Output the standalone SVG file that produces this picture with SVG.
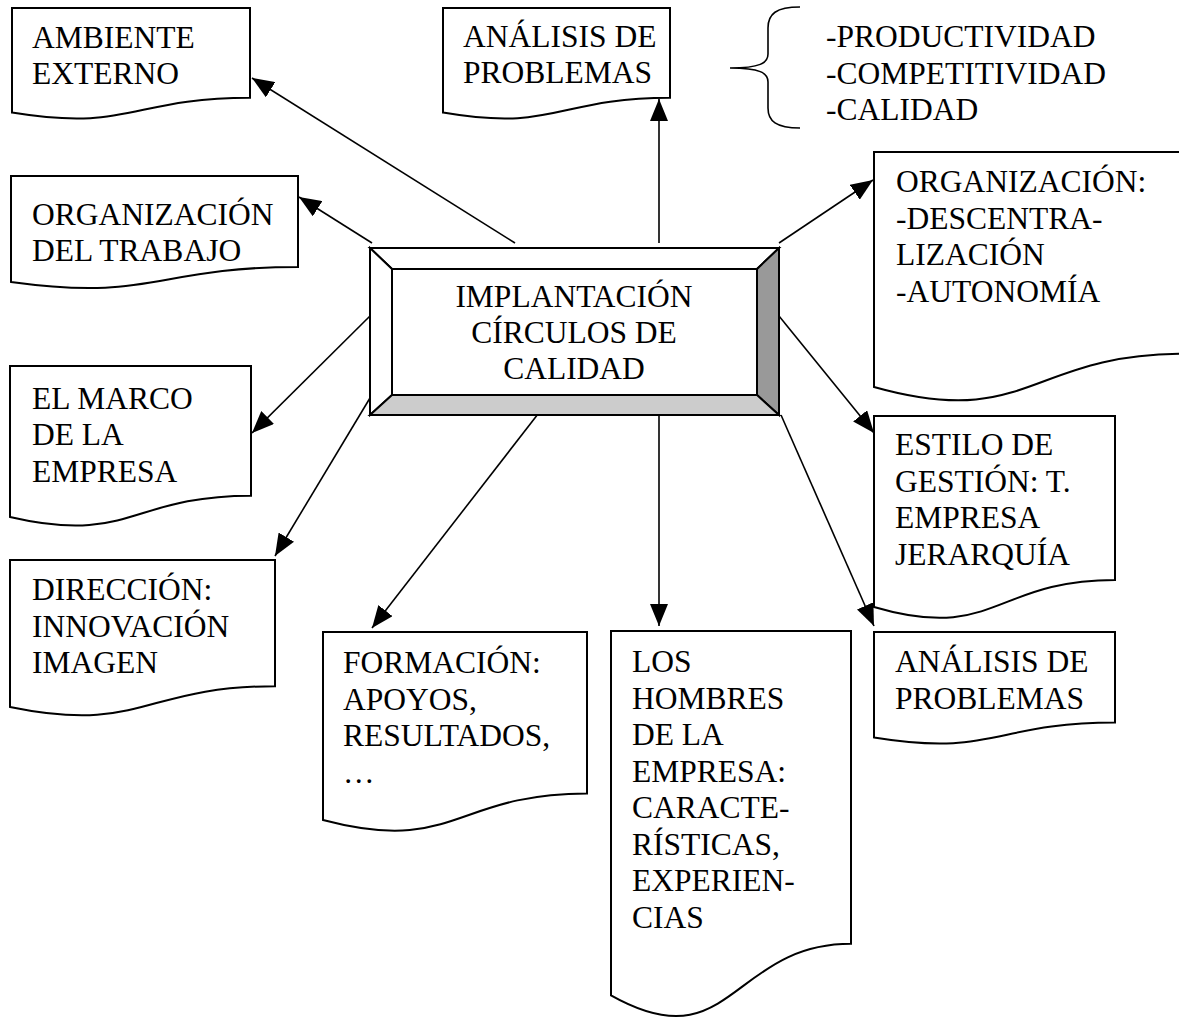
<svg xmlns="http://www.w3.org/2000/svg" width="1179" height="1019" viewBox="0 0 1179 1019">
<style>
.doc{fill:#fff;stroke:#000;stroke-width:2;stroke-linejoin:miter}
.t{font-family:'Liberation Serif','Times New Roman',serif;font-size:31.5px;fill:#000}
.c{stroke:#000;stroke-width:1.6;fill:none}
.bev{stroke:#000;stroke-width:2;stroke-linejoin:miter}
</style>
<defs>
<marker id="ah" markerUnits="userSpaceOnUse" markerWidth="23" markerHeight="18" viewBox="0 0 23 18" refX="22" refY="9" orient="auto">
<path d="M0,0 L22,9 L0,18 Z" fill="#000"/>
</marker>
</defs>
<rect width="1179" height="1019" fill="#fff"/>

<g id="connectors">
<path class="c" marker-end="url(#ah)" d="M515,243 L252,78"/>
<path class="c" marker-end="url(#ah)" d="M659,243 L659,99"/>
<path class="c" marker-end="url(#ah)" d="M372,243 L299,197"/>
<path class="c" marker-end="url(#ah)" d="M779,243 L873,180"/>
<path class="c" marker-end="url(#ah)" d="M370,316 L252,433"/>
<path class="c" marker-end="url(#ah)" d="M370,398 L275,556"/>
<path class="c" marker-end="url(#ah)" d="M538,414 L372,628"/>
<path class="c" marker-end="url(#ah)" d="M659,415 L659,626"/>
<path class="c" marker-end="url(#ah)" d="M779,316 L874,433"/>
<path class="c" marker-end="url(#ah)" d="M781,415 L874,626"/>
</g>

<g id="center">
<polygon class="bev" fill="#fff" points="370,248 779,248 757,269 392,269"/>
<polygon class="bev" fill="#fff" points="370,248 392,269 392,395 370,415"/>
<polygon class="bev" fill="#999" points="779,248 779,415 757,395 757,269"/>
<polygon class="bev" fill="#ccc" points="370,415 779,415 757,395 392,395"/>
<rect class="bev" fill="#fff" x="392" y="269" width="365" height="126"/>
<text class="t" text-anchor="middle"><tspan x="574" y="307">IMPLANTACIÓN</tspan><tspan x="574" y="343">CÍRCULOS DE</tspan><tspan x="574" y="379">CALIDAD</tspan></text>
</g>

<g id="ambiente">
<path class="doc" d="M12,8 H250 V97.8 C131,97.8 131,132 12,112.6 Z"/>
<text class="t"><tspan x="32" y="48">AMBIENTE</tspan><tspan x="32" y="84">EXTERNO</tspan></text>
</g>

<g id="analisis-top">
<path class="doc" d="M443,8 H670 V97.8 C556.5,97.8 556.5,132 443,112.6 Z"/>
<text class="t"><tspan x="463" y="47">ANÁLISIS DE</tspan><tspan x="463" y="83">PROBLEMAS</tspan></text>
</g>

<g id="brace">
<path class="c" d="M800,7 C776,7 768,14 768,28 L768,54 C768,63 760,68 730,68 C760,68 768,73 768,82 L768,108 C768,121 776,128 800,128"/>
<text class="t"><tspan x="826" y="47">-PRODUCTIVIDAD</tspan><tspan x="826" y="83.5">-COMPETITIVIDAD</tspan><tspan x="826" y="120">-CALIDAD</tspan></text>
</g>

<g id="org-trabajo">
<path class="doc" d="M11,176 H298 V267 C154.5,267 154.5,301.7 11,282 Z"/>
<text class="t"><tspan x="32" y="225">ORGANIZACIÓN</tspan><tspan x="32" y="261">DEL TRABAJO</tspan></text>
</g>

<g id="organizacion">
<path class="doc" d="M874,152 H1184 V353.8 C1029,353.8 1029,430.6 874,387 Z"/>
<text class="t"><tspan x="896" y="192">ORGANIZACIÓN:</tspan><tspan x="896" y="228.5">-DESCENTRA-</tspan><tspan x="896" y="265">LIZACIÓN</tspan><tspan x="896" y="301.5">-AUTONOMÍA</tspan></text>
</g>

<g id="marco">
<path class="doc" d="M10,366 H251 V495.7 C130.5,495.7 130.5,545.1 10,517 Z"/>
<text class="t"><tspan x="32" y="408.5">EL MARCO</tspan><tspan x="32" y="445">DE LA</tspan><tspan x="32" y="481.5">EMPRESA</tspan></text>
</g>

<g id="estilo">
<path class="doc" d="M874,416 H1115 V580 C994.5,580 994.5,642.5 874,607 Z"/>
<text class="t"><tspan x="895" y="455">ESTILO DE</tspan><tspan x="895" y="491.5">GESTIÓN: T.</tspan><tspan x="895" y="528">EMPRESA</tspan><tspan x="895" y="564.5">JERARQUÍA</tspan></text>
</g>

<g id="direccion">
<path class="doc" d="M10,560 H275 V686.2 C142.5,686.2 142.5,734.3 10,707 Z"/>
<text class="t"><tspan x="32" y="600">DIRECCIÓN:</tspan><tspan x="32" y="636.5">INNOVACIÓN</tspan><tspan x="32" y="673">IMAGEN</tspan></text>
</g>

<g id="formacion">
<path class="doc" d="M323,632 H587 V793.4 C455,793.4 455,854.9 323,820 Z"/>
<text class="t"><tspan x="343" y="673">FORMACIÓN:</tspan><tspan x="343" y="709.5">APOYOS,</tspan><tspan x="343" y="746">RESULTADOS,</tspan><tspan x="343" y="782.5">…</tspan></text>
</g>

<g id="hombres">
<path class="doc" d="M611,631 H851 V943.8 C731,943.8 731,1062.9 611,995.3 Z"/>
<text class="t"><tspan x="632" y="672">LOS</tspan><tspan x="632" y="708.5">HOMBRES</tspan><tspan x="632" y="745">DE LA</tspan><tspan x="632" y="781.5">EMPRESA:</tspan><tspan x="632" y="818">CARACTE-</tspan><tspan x="632" y="854.5">RÍSTICAS,</tspan><tspan x="632" y="891">EXPERIEN-</tspan><tspan x="632" y="927.5">CIAS</tspan></text>
</g>

<g id="analisis-bottom">
<path class="doc" d="M874,632 H1115 V722.6 C994.5,722.6 994.5,757.1 874,737.5 Z"/>
<text class="t"><tspan x="895" y="672">ANÁLISIS DE</tspan><tspan x="895" y="708.5">PROBLEMAS</tspan></text>
</g>
</svg>
